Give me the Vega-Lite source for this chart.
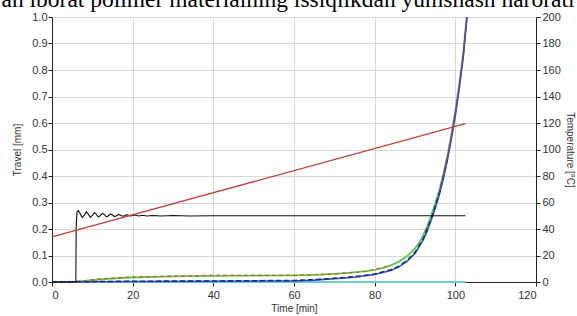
{
  "$schema": "https://vega.github.io/schema/vega-lite/v6.json",
  "autosize": "none",
  "width": 484,
  "height": 265,
  "padding": {"left": 52, "top": 17, "right": 41, "bottom": 34},
  "background": "white",
  "title": {
    "text": "an iborat polimer materialning issiqlikdan yumshash harorati",
    "font": "Liberation Serif",
    "fontSize": 23.5,
    "fontWeight": "normal",
    "color": "black",
    "anchor": "middle",
    "frame": "group",
    "orient": "top",
    "baseline": "alphabetic",
    "offset": 0,
    "dy": 19,
    "dx": -6
  },
  "config": {
    "view": {"stroke": null},
    "axis": {
      "labelFont": "Liberation Sans",
      "titleFont": "Liberation Sans",
      "labelFontSize": 11,
      "titleFontSize": 10,
      "titleFontWeight": "normal",
      "labelColor": "#333",
      "titleColor": "#333",
      "domainColor": "#222",
      "tickColor": "#222",
      "gridColor": "#d8d8d8",
      "tickSize": 4,
      "labelOverlap": false
    }
  },
  "datasets": {
    "travel": [
      {"t": 0, "v": 0.0, "s": "E"}, {"t": 102.5, "v": 0.0, "s": "E"},
      {"t": 0, "v": 0.0, "s": "A"}, {"t": 6, "v": 0.001, "s": "A"}, {"t": 8, "v": 0.004, "s": "A"}, {"t": 10, "v": 0.007, "s": "A"}, {"t": 12, "v": 0.01, "s": "A"}, {"t": 15, "v": 0.013, "s": "A"}, {"t": 18, "v": 0.016, "s": "A"}, {"t": 20, "v": 0.017, "s": "A"}, {"t": 25, "v": 0.019, "s": "A"}, {"t": 30, "v": 0.021, "s": "A"}, {"t": 35, "v": 0.022, "s": "A"}, {"t": 40, "v": 0.023, "s": "A"}, {"t": 50, "v": 0.024, "s": "A"}, {"t": 60, "v": 0.025, "s": "A"}, {"t": 65, "v": 0.027, "s": "A"}, {"t": 70, "v": 0.031, "s": "A"}, {"t": 74, "v": 0.035, "s": "A"}, {"t": 78, "v": 0.041, "s": "A"}, {"t": 80, "v": 0.046, "s": "A"}, {"t": 82, "v": 0.053, "s": "A"}, {"t": 84, "v": 0.063, "s": "A"}, {"t": 86, "v": 0.077, "s": "A"}, {"t": 88, "v": 0.097, "s": "A"}, {"t": 90, "v": 0.127, "s": "A"}, {"t": 91, "v": 0.147, "s": "A"}, {"t": 92, "v": 0.175, "s": "A"}, {"t": 93, "v": 0.21, "s": "A"}, {"t": 94, "v": 0.25, "s": "A"}, {"t": 95, "v": 0.295, "s": "A"}, {"t": 96, "v": 0.345, "s": "A"}, {"t": 97, "v": 0.405, "s": "A"}, {"t": 98, "v": 0.475, "s": "A"}, {"t": 99, "v": 0.555, "s": "A"}, {"t": 100, "v": 0.645, "s": "A"}, {"t": 101, "v": 0.75, "s": "A"}, {"t": 102, "v": 0.87, "s": "A"}, {"t": 102.8, "v": 1.0, "s": "A"},
      {"t": 6, "v": 0.001, "s": "B"}, {"t": 10, "v": 0.009, "s": "B"}, {"t": 15, "v": 0.015, "s": "B"}, {"t": 20, "v": 0.019, "s": "B"}, {"t": 30, "v": 0.022, "s": "B"}, {"t": 40, "v": 0.025, "s": "B"}, {"t": 50, "v": 0.025, "s": "B"}, {"t": 60, "v": 0.025, "s": "B"}, {"t": 70, "v": 0.03, "s": "B"}, {"t": 78, "v": 0.04, "s": "B"}, {"t": 84, "v": 0.062, "s": "B"},
      {"t": 0, "v": 0.0, "s": "C"}, {"t": 10, "v": 0.001, "s": "C"}, {"t": 20, "v": 0.002, "s": "C"}, {"t": 40, "v": 0.003, "s": "C"}, {"t": 60, "v": 0.004, "s": "C"}, {"t": 65, "v": 0.007, "s": "C"}, {"t": 70, "v": 0.012, "s": "C"}, {"t": 75, "v": 0.018, "s": "C"}, {"t": 80, "v": 0.028, "s": "C"}, {"t": 84, "v": 0.043, "s": "C"}, {"t": 86, "v": 0.057, "s": "C"}, {"t": 88, "v": 0.078, "s": "C"}, {"t": 90, "v": 0.108, "s": "C"}, {"t": 92, "v": 0.158, "s": "C"}, {"t": 93, "v": 0.193, "s": "C"}, {"t": 94, "v": 0.233, "s": "C"}, {"t": 95, "v": 0.278, "s": "C"}, {"t": 96, "v": 0.328, "s": "C"}, {"t": 97, "v": 0.388, "s": "C"}, {"t": 98, "v": 0.458, "s": "C"}, {"t": 99, "v": 0.538, "s": "C"}, {"t": 100, "v": 0.628, "s": "C"}, {"t": 101, "v": 0.733, "s": "C"}, {"t": 102, "v": 0.853, "s": "C"}, {"t": 102.9, "v": 1.0, "s": "C"},
      {"t": 0, "v": 0.0, "s": "D"}, {"t": 20, "v": 0.003, "s": "D"}, {"t": 40, "v": 0.004, "s": "D"}, {"t": 60, "v": 0.006, "s": "D"}, {"t": 65, "v": 0.009, "s": "D"}, {"t": 70, "v": 0.014, "s": "D"}, {"t": 75, "v": 0.02, "s": "D"}, {"t": 80, "v": 0.03, "s": "D"}, {"t": 84, "v": 0.046, "s": "D"}, {"t": 86, "v": 0.06, "s": "D"}, {"t": 88, "v": 0.081, "s": "D"}, {"t": 90, "v": 0.112, "s": "D"}, {"t": 92, "v": 0.162, "s": "D"}, {"t": 94, "v": 0.238, "s": "D"}, {"t": 96, "v": 0.333, "s": "D"}, {"t": 98, "v": 0.463, "s": "D"},
      {"t": 96, "v": 0.335, "s": "F"}, {"t": 97, "v": 0.395, "s": "F"}, {"t": 98, "v": 0.465, "s": "F"}, {"t": 99, "v": 0.545, "s": "F"}, {"t": 100, "v": 0.636, "s": "F"}, {"t": 101, "v": 0.741, "s": "F"}, {"t": 102, "v": 0.861, "s": "F"}, {"t": 102.85, "v": 1.0, "s": "F"}
    ],
    "load": [
      {"t": 0, "v": 0.0}, {"t": 5.9, "v": 0.0}, {"t": 6.0, "v": 0.21}, {"t": 6.2, "v": 0.265}, {"t": 6.5, "v": 0.27}, {"t": 7.0, "v": 0.258}, {"t": 7.5, "v": 0.243}, {"t": 8.0, "v": 0.252}, {"t": 8.5, "v": 0.265}, {"t": 9.0, "v": 0.256}, {"t": 9.5, "v": 0.244}, {"t": 10.0, "v": 0.251}, {"t": 10.5, "v": 0.262}, {"t": 11.0, "v": 0.255}, {"t": 11.5, "v": 0.245}, {"t": 12.0, "v": 0.251}, {"t": 12.5, "v": 0.259}, {"t": 13.0, "v": 0.254}, {"t": 13.5, "v": 0.246}, {"t": 14.0, "v": 0.25}, {"t": 14.5, "v": 0.257}, {"t": 15.0, "v": 0.253}, {"t": 15.5, "v": 0.247}, {"t": 16.0, "v": 0.25}, {"t": 16.5, "v": 0.255}, {"t": 17.0, "v": 0.252}, {"t": 17.5, "v": 0.248}, {"t": 18.0, "v": 0.25}, {"t": 18.5, "v": 0.254}, {"t": 19.5, "v": 0.249}, {"t": 20.5, "v": 0.253}, {"t": 21.5, "v": 0.249}, {"t": 22.5, "v": 0.252}, {"t": 23.5, "v": 0.249}, {"t": 25, "v": 0.251}, {"t": 27, "v": 0.249}, {"t": 30, "v": 0.251}, {"t": 34, "v": 0.249}, {"t": 40, "v": 0.25}, {"t": 102.5, "v": 0.25}
    ],
    "temp": [
      {"t": 0, "c": 34}, {"t": 102.5, "c": 119.5}
    ]
  },
  "layer": [
    {
      "data": {"name": "travel"},
      "encoding": {
        "x": {"field": "t", "type": "quantitative", "scale": {"domain": [0, 120], "nice": false}, "axis": {"title": "Time [min]", "values": [0, 20, 40, 60, 80, 100, 120], "grid": true, "labelPadding": 3, "titlePadding": 3}},
        "y": {"field": "v", "type": "quantitative", "scale": {"domain": [0, 1], "nice": false}, "axis": {"title": "Travel [mm]", "values": [0, 0.1, 0.2, 0.3, 0.4, 0.5, 0.6, 0.7, 0.8, 0.9, 1.0], "format": ".1f", "grid": true, "labelPadding": 1, "titlePadding": 9, "labelOverlap": false, "labelBound": false, "labelFlush": false}}
      },
      "layer": [
        {
          "transform": [{"filter": "datum.s === 'E'"}],
          "mark": {"type": "line", "color": "#6cc9dc", "strokeWidth": 2.2}
        },
        {
          "transform": [{"filter": "datum.s === 'A'"}],
          "mark": {"type": "line", "color": "#55cc44", "strokeWidth": 1.8}
        },
        {
          "transform": [{"filter": "datum.s === 'B'"}],
          "mark": {"type": "line", "color": "#c0623a", "strokeWidth": 1.3, "strokeDash": [4, 3]}
        },
        {
          "transform": [{"filter": "datum.s === 'C'"}],
          "mark": {"type": "line", "color": "#2f4fc0", "strokeWidth": 1.6}
        },
        {
          "transform": [{"filter": "datum.s === 'D'"}],
          "mark": {"type": "line", "color": "#1a2a78", "strokeWidth": 1.5, "strokeDash": [5, 3]}
        },
        {
          "transform": [{"filter": "datum.s === 'F'"}],
          "mark": {"type": "line", "color": "#7a3aa8", "strokeWidth": 1.3}
        },
        {
          "data": {"name": "load"},
          "mark": {"type": "line", "color": "#111", "strokeWidth": 1.1}
        }
      ]
    },
    {
      "data": {"name": "temp"},
      "mark": {"type": "line", "color": "#c0403a", "strokeWidth": 1.3},
      "encoding": {
        "x": {"field": "t", "type": "quantitative"},
        "y": {"field": "c", "type": "quantitative", "scale": {"domain": [0, 200], "nice": false}, "axis": {"orient": "right", "title": "Temperature [°C]", "values": [0, 20, 40, 60, 80, 100, 120, 140, 160, 180, 200], "grid": false, "labelPadding": 2, "titlePadding": 4, "labelOverlap": false}}
      }
    }
  ],
  "resolve": {"scale": {"y": "independent"}}
}
